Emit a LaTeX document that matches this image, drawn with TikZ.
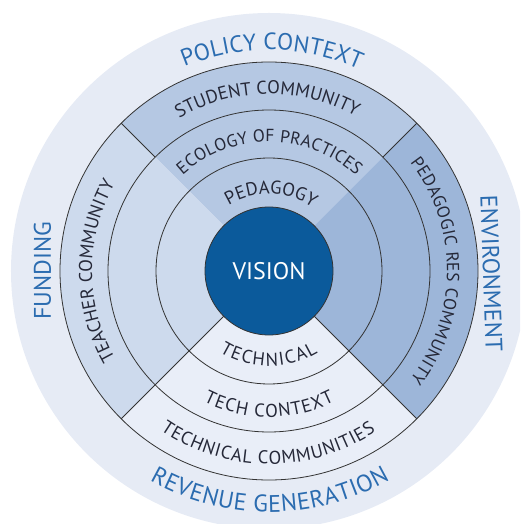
\documentclass[tikz,border=0pt]{standalone}
\usepackage{fontspec}
\setmainfont{PT Sans}
\usetikzlibrary{decorations.text}

\definecolor{haze}{HTML}{E6EBF5}
\definecolor{teacherfill}{HTML}{CDDAED}
\definecolor{studentfill}{HTML}{B5C8E3}
\definecolor{pedfill}{HTML}{9DB6D9}
\definecolor{techfill}{HTML}{E9EEF8}
\definecolor{visionfill}{HTML}{0B5A9B}
\definecolor{outerink}{HTML}{2B6CB0}
\definecolor{ringink}{HTML}{252838}
\definecolor{lineink}{HTML}{333333}

\newcommand\outerfont{\fontsize{24}{24}\selectfont}
% wedge of the disc between two angles, out to a radius
\newcommand\wedgepath[3]{(0,0) -- (#1:#3) arc[start angle=#1, end angle=#2, radius=#3] -- cycle}

\tikzset{
  % #1 = font size in pt, #2 = label
  ringlabel/.style 2 args={decorate, decoration={text along path, text align=fit to path,
      text color=ringink, text={|\fontsize{#1}{#1}\selectfont|#2}}},
  outerarc/.style 2 args={decorate, decoration={text along path, text align=fit to path,
      text color=outerink, text={|\fontsize{#1}{#1}\selectfont|#2}}},
  outerlabel/.style={text=outerink, font=\outerfont, inner sep=0pt},
  ringline/.style={draw=lineink, line width=0.8pt},
}

\begin{document}
\begin{tikzpicture}[x=1pt, y=1pt]
  \useasboundingbox (-269,-253) rectangle (251,271);
  \clip (-269,-253) rectangle (251,271);

  % outer context band
  \fill[haze] (0,0) circle[radius=258pt];

  % four quadrants, each one colour from the hub out to the community ring
  \fill[studentfill] \wedgepath{45}{135}{209pt};
  \fill[teacherfill] \wedgepath{135}{225}{209pt};
  \fill[pedfill]     \wedgepath{-45}{45}{209pt};
  \fill[techfill]    \wedgepath{225}{315}{209pt};

  % ring boundaries
  \draw[ringline] (0,0) circle[radius=113pt];
  \draw[ringline] (0,0) circle[radius=161pt];
  \draw[ringline] (0,0) circle[radius=209pt];

  % dividers
  \coordinate (ulin) at (135:161pt);  \coordinate (ulout) at (135:209pt);
  \coordinate (urin) at (45:161pt);   \coordinate (urout) at (45:209pt);
  \coordinate (llin) at (225:64pt);   \coordinate (llout) at (225:209pt);
  \coordinate (lrin) at (315:64pt);   \coordinate (lrout) at (315:209pt);
  \draw[ringline] (ulin) -- (ulout);
  \draw[ringline] (urin) -- (urout);
  \draw[ringline] (llin) -- (llout);
  \draw[ringline] (lrin) -- (lrout);

  % hub
  \node[circle, fill=visionfill, draw=lineink, line width=0.8pt, minimum size=128pt,
        inner sep=0pt, text=white, font=\fontsize{24}{24}\selectfont] (vision) at (0,0) {VISION};

  % ring labels, top half (clockwise)
  \path[ringlabel={18.5}{PEDAGOGY}] (121.5:77pt) arc[start angle=121.5, end angle=59, radius=77pt];
  \path[ringlabel={17.5}{ECOLOGY OF PRACTICES}] (132:129pt) arc[start angle=132, end angle=47.5, radius=129pt];
  \path[ringlabel={18.5}{STUDENT COMMUNITY}] (120.5:177pt) arc[start angle=120.5, end angle=61, radius=177pt];
  \path[ringlabel={18.5}{TEACHER COMMUNITY}] (209.7:177pt) arc[start angle=209.7, end angle=150.6, radius=177pt];
  \path[ringlabel={17.5}{PEDAGOGIC RES COMMUNITY}] (37.6:178pt) arc[start angle=37.6, end angle=-37.6, radius=178pt];

  % ring labels, bottom half (counter-clockwise)
  \path[ringlabel={18.5}{TECHNICAL}] (238.5:95pt) arc[start angle=238.5, end angle=301, radius=95pt];
  \path[ringlabel={18.5}{TECH CONTEXT}] (243.3:146pt) arc[start angle=243.3, end angle=296.7, radius=146pt];
  \path[ringlabel={18.5}{TECHNICAL COMMUNITIES}] (235.8:193pt) arc[start angle=235.8, end angle=303.6, radius=193pt];

  % context labels
  \path[outerarc={23.5}{POLICY CONTEXT}] (112.5:221pt) arc[start angle=112.5, end angle=66, radius=221pt];
  \path[outerarc={24}{REVENUE GENERATION}] (240.3:241pt) arc[start angle=240.3, end angle=300.1, radius=241pt];
  \node[outerlabel, rotate=90] (funding) at (-226.5,0) {FUNDING};
  \node[outerlabel, rotate=-88] (environment) at (222.5,-2.5) {ENVIRONMENT};
\end{tikzpicture}
\end{document}
